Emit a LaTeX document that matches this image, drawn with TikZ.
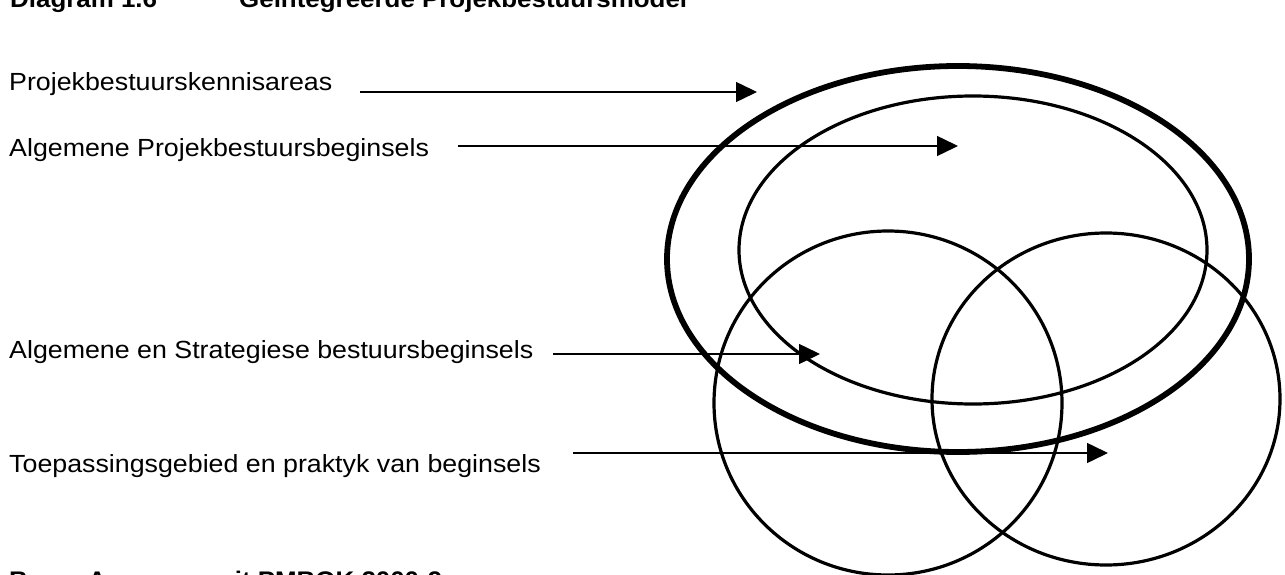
\documentclass[tikz,border=0pt]{standalone}
\usepackage{fontspec}
\setmainfont{Liberation Sans}[FakeStretch=1.08]
\usetikzlibrary{arrows.meta, positioning}

\begin{document}
\begin{tikzpicture}[
    x=1pt, y=-1pt,
    font=\fontsize{24.8}{28}\selectfont,
    % styles
    label/.style={anchor=base west, inner sep=0pt},
    heading/.style={anchor=base west, inner sep=0pt, font=\fontsize{24}{28}\selectfont\bfseries},
    pointer/.style={line width=1.5pt, -{Triangle[length=21pt, width=20pt]}},
    ring/.style={line width=3.2pt},
    outerring/.style={line width=5.8pt}
]
    \useasboundingbox (0,0) rectangle (1285,575);

    % --- titel en bron ---
    \node (title) [heading] at (10,8) {Diagram 1.6};
    \node (titletext) [heading] at (239,8) {Ge\"integreerde Projekbestuursmodel};
    \node (source) [heading] at (9,588) {Bron: Aangepas uit PMBOK 2000:9};

    % --- ellipse ---
    \draw [outerring] (958,259) ellipse [x radius=291pt, y radius=193pt];
    \draw [ring] (973,250) ellipse [x radius=234pt, y radius=154pt];
    \draw [ring] (888,403) ellipse [x radius=174pt, y radius=172pt];
    \draw [ring] (1106,399) ellipse [x radius=174pt, y radius=166pt];

    % --- byskrifte ---
    \node (areas) [label] at (9,91) {Projekbestuurskennisareas};
    \node (general) [label] at (9,157) {Algemene Projekbestuursbeginsels};
    \node (strategic) [label] at (9,358) {Algemene en Strategiese bestuursbeginsels};
    \node (practice) [label] at (9,472) {Toepassingsgebied en praktyk van beginsels};

    % --- pyle ---
    \coordinate (areasA) at (360,92);
    \coordinate (areasB) at (757,92);
    \coordinate (generalA) at (458,146);
    \coordinate (generalB) at (958,146);
    \coordinate (strategicA) at (553,354);
    \coordinate (strategicB) at (820,354);
    \coordinate (practiceA) at (573,453);
    \coordinate (practiceB) at (1108,453);

    \draw [pointer] (areasA) -- (areasB);
    \draw [pointer] (generalA) -- (generalB);
    \draw [pointer] (strategicA) -- (strategicB);
    \draw [pointer] (practiceA) -- (practiceB);

\end{tikzpicture}
\end{document}
